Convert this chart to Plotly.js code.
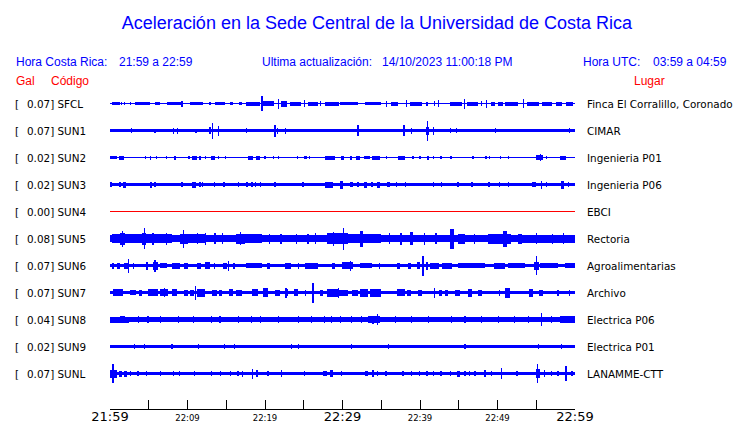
<!DOCTYPE html>
<html>
<head>
<meta charset="utf-8">
<script src="https://cdn.plot.ly/plotly-3.0.1.min.js"></script>
<style>html,body{margin:0;padding:0;background:#fff;}#chart{width:740px;height:423px;}</style>
</head>
<body>
<div id="chart"></div>
<script>
// ---- data ----
const codes  = ['SFCL','SUN1','SUN2','SUN3','SUN4','SUN5','SUN6','SUN7','SUN8','SUN9','SUNL'];
const galMax = ['0.07','0.07','0.02','0.02','0.00','0.08','0.07','0.07','0.04','0.02','0.07'];
const places = ['Finca El Corralillo, Coronado','CIMAR','Ingenieria P01','Ingenieria P06','EBCI','Rectoria',
                'Agroalimentarias','Archivo','Electrica P06','Electrica P01','LANAMME-CTT'];
// background noise half-amplitude of each trace (relative units)
const noiseAmp = [0.6, 1.8, 0.6, 1.7, 0, 3.6, 1.5, 1.6, 2.3, 1.3, 1.5];
// bursts: [start minute, end minute, half-amplitude]
const evSFCL = [[0.2,1.3,1.3],[1.5,1.5,1.5],[1.9,1.9,1.5],[2.6,2.6,1.5],[3.2,5.2,1.5],[5.8,6.5,1.5],[7.3,9.2,1.5],[9.3,9.3,3],
  [10.3,12.0,1.5],[12.9,12.9,1.5],[13.5,14.8,1.5],[15.5,15.9,1.5],[16.6,17.0,1.5],[17.6,19.4,2],[19.6,19.6,7.5],[19.8,21.1,2.5],
  [21.7,21.7,5],[22.1,22.8,3],[23.2,24.7,2],[25.1,25.1,3.5],[25.6,26.9,2],[27.2,27.2,2.5],[27.7,29.5,2],[29.7,32.0,1.8],
  [32.9,35.0,1.8],[35.7,35.7,3],[36.3,37.2,2],[38.3,38.3,3.5],[38.7,40.2,2],[40.9,40.9,2],[41.9,41.9,2.5],[42.4,42.4,3.5],
  [43.9,45.4,2],[45.7,45.7,5],[46.0,47.5,2],[47.9,47.9,2.5],[48.6,48.6,4],[49.2,49.7,2],[50.1,50.7,2],[51.0,52.7,2],
  [53.4,53.4,4.5],[53.8,55.3,2],[55.7,57.0,2],[57.6,58.3,2],[58.9,59.8,2]];
const evSUN1 = [[2.8,2.8,2.5],[5.8,5.8,2],[8.2,8.2,3],[8.6,8.8,3],[11.1,11.1,2],[12.9,12.9,3.5],[13.2,13.2,8],[14.0,14.0,5],
  [17.6,17.6,2.5],[21.3,21.3,6],[21.6,21.6,3],[22.6,22.6,3],[32.0,32.0,5.5],[37.8,38.0,5.5],[38.9,38.9,3],[41.0,41.0,10],
  [40.8,41.2,4],[41.7,41.7,4],[43.9,43.9,2.5],[44.7,44.7,2.5],[49.7,49.7,2.2],[59.3,59.3,2.2]];
const evSUN2 = [[0,0.9,1.5],[1.2,1.8,2],[4.6,4.6,1.5],[5.2,5.2,2],[6.0,6.0,1.5],[7.3,7.3,1.5],[8.4,8.4,2],[10.0,10.3,1.5],
  [10.6,11.2,2],[11.5,11.8,2],[12.3,12.3,1.5],[13.0,13.5,2],[14.0,14.0,1.5],[14.9,14.9,1.5],[17.8,18.5,2],[18.8,19.4,2],
  [20.0,20.0,1.5],[21.1,21.1,1.5],[21.7,21.7,1.5],[24.2,24.2,1.5],[25.0,25.4,1.5],[25.7,25.7,1.5],[27.7,29.0,2],[29.8,30.2,2],
  [31.0,31.2,2],[31.7,32.3,2],[32.8,33.5,1.5],[33.8,34.8,2],[35.7,35.7,1.5],[37.2,38.1,2],[39.1,39.1,1.5],[40.0,40.0,1.5],
  [40.9,41.1,2],[41.7,41.7,1.5],[42.6,42.9,1.5],[44.0,44.0,1.5],[46.7,47.0,1.5],[48.5,48.5,1.5],[49.0,49.0,1.5],[50.4,50.4,1.5],
  [51.4,51.4,1.5],[55.0,55.9,2.5],[55.5,55.5,3.5],[56.3,56.3,1.5],[58.1,58.8,2]];
const evSUN3 = [[0,0.2,2.8],[1.3,1.3,2.8],[1.7,2.0,3],[5.2,5.4,3],[5.8,5.8,2.8],[9.3,9.3,2.5],[10.6,11.1,3],[11.6,11.6,2.8],
  [11.9,11.9,2.8],[13.5,13.5,2.5],[14.7,14.7,2.5],[16.6,16.6,2.5],[17.5,17.8,2.8],[18.2,18.4,2.8],[18.7,18.9,2.8],[19.4,19.4,2.5],
  [21.3,21.3,2.5],[24.9,24.9,2.5],[27.7,28.8,3],[29.7,30.1,4],[31.0,31.4,2.8],[32.0,32.0,2.8],[32.8,33.1,3],[33.8,33.8,2.5],
  [34.4,34.8,3],[35.7,36.1,2.8],[37.0,37.0,2.5],[38.1,38.1,2.5],[41.7,41.7,2.5],[42.8,42.8,2.5],[44.9,44.9,2.5],[46.7,46.7,2.5],
  [48.9,48.9,2.5],[50.3,50.3,2.5],[51.4,51.4,2.5],[54.4,55.0,2.8],[55.6,55.8,4],[56.3,56.3,2.5],[58.2,58.6,4],[59.2,59.2,2.5]];
const evSUN4 = [];
const evSUN5 = [[0.2,4.1,4.3],[1.3,1.9,6],[1.6,1.6,8],[4.1,4.7,6],[4.4,4.5,10.5],[4.7,8.0,4.5],[5.5,5.6,6],[7.2,7.3,6],
  [9.0,10.1,5],[9.4,9.6,9],[10.1,12.3,4.3],[11.2,11.3,5.5],[12.3,12.3,6],[13.5,13.6,5.5],[14.5,14.6,5.5],[16.3,17.4,5],[16.8,16.9,6.5],
  [17.4,19.6,4.3],[20.5,20.6,5],[22.0,22.1,5],[24.0,24.1,5],[25.5,25.6,5],[26.5,26.6,5.5],[28.0,30.7,5.3],[28.8,28.9,7],
  [30.0,30.2,11],[30.7,35.0,4.3],[32.3,32.7,8],[36.0,36.1,5.5],[37.5,37.6,6],[38.7,39.1,6.5],[40.5,40.6,6],[42.0,42.1,5.5],
  [43.9,44.4,10],[44.9,45.8,5],[47.0,47.1,5],[48.8,51.8,5],[50.7,51.2,8],[52.7,53.1,5],[53.1,60,4],[55.0,55.1,5.5],
  [57.0,57.1,5],[58.5,58.6,5.5]];
const evSUN6 = [[0.4,0.4,3],[0.9,1.3,3],[1.8,2.4,3],[2.4,2.4,7],[3.0,3.0,3],[4.6,4.9,4],[5.6,6.2,4],[5.8,5.8,6],[6.5,7.3,2.5],
  [8.0,9.0,3],[9.5,10.1,3],[11.2,11.8,3],[12.3,12.9,3.5],[13.5,13.5,3],[14.6,15.1,3],[15.3,15.3,5],[15.9,16.1,3],[17.6,19.6,2.5],
  [20.3,20.6,3],[22.6,23.4,3],[24.3,24.3,3],[25.2,26.9,3],[28.6,29.0,3],[29.9,31.4,3.5],[31.0,31.0,5],[32.3,33.8,2.5],
  [34.8,34.8,3],[37.0,37.4,3],[38.5,38.9,3],[39.6,40.0,3.5],[40.4,40.4,10],[40.9,40.9,4],[41.3,42.4,3],[42.8,44.1,3],
  [44.9,48.4,2.2],[49.5,51.0,3],[51.4,53.5,2.5],[55.0,55.0,9.5],[54.7,55.3,4],[55.5,57.8,2.5],[58.7,60,2.5]];
const evSUN7 = [[0.4,1.7,3.5],[2.6,3.4,2.5],[3.7,4.1,3],[4.9,6.2,3.5],[6.5,7.5,3.5],[7.0,7.0,4.5],[8.0,8.6,3.5],[9.5,10.1,3],
  [10.3,10.8,3],[11.0,11.0,7],[11.2,12.3,4],[13.1,13.8,3],[14.0,14.4,3],[15.3,15.9,3.5],[16.3,17.0,3],[18.3,19.1,3.5],
  [19.8,20.4,4.5],[21.3,21.9,3],[22.6,23.0,3.5],[22.7,22.7,5],[23.7,24.3,3.5],[25.2,25.2,3],[26.2,26.2,10],[27.1,27.5,3],
  [28.0,29.5,4],[29.5,29.5,5],[29.5,30.7,3],[31.2,32.0,3],[32.3,33.3,4],[33.5,35.0,4],[37.0,38.1,3.5],[38.3,38.9,3],
  [39.8,40.2,3],[41.9,41.9,5],[42.4,42.8,3],[43.2,43.6,3],[44.5,45.2,3],[46.2,46.7,4],[47.5,48.0,3],[50.3,50.3,3],
  [51.0,51.6,5],[54.0,54.6,4],[55.3,55.9,3],[57.8,57.8,3],[59.3,59.3,3]];
const evSUN8 = [[0,2.4,3],[1.3,1.9,3.8],[3.7,3.7,3.3],[4.9,4.9,3.3],[6.5,6.5,3.3],[8.8,8.8,3.3],[10.8,10.8,3.3],[13.1,13.1,3.3],
  [14.2,14.2,3.3],[16.6,16.6,3.3],[18.3,18.3,3.3],[19.4,19.4,3.3],[21.7,21.7,3.3],[24.3,24.3,3.3],[26.0,26.0,3.3],[27.7,27.7,3.3],
  [28.6,28.6,3.3],[29.7,29.7,3.3],[31.2,31.2,3.3],[32.5,32.5,3.3],[33.3,34.8,3.2],[34.5,34.5,5.5],[33.9,34.0,4],[36.8,36.8,3.3],
  [38.9,38.9,3.3],[41.1,41.1,3.3],[44.1,44.1,3.3],[45.8,45.8,3.3],[47.9,47.9,3.3],[50.1,50.1,3.3],[52.2,52.2,3.3],[54.0,54.0,3.3],
  [55.7,55.7,6.5],[57.0,57.0,3.3],[58.1,60,3.2]];
const evSUN9 = [[0,2.2,1.8],[3.2,3.2,2.2],[4.5,4.5,2.2],[8.0,8.0,2.2],[11.4,11.4,2.2],[14.8,14.8,2.2],[16.1,16.1,2.2],
  [23.4,23.4,2.2],[24.3,24.3,2.2],[31.2,31.2,2.2],[35.9,35.9,2.2],[45.8,45.8,2.2],[55.3,55.3,2.2],[58.3,58.3,2.2]];
const evSUNL = [[0,0.9,4],[0.4,0.4,9.5],[1.1,1.5,3],[1.8,2.2,3],[2.6,2.6,2.5],[3.6,3.6,2.5],[4.7,4.7,2.5],[6.5,6.5,2.5],
  [8.2,8.2,2.5],[9.0,9.0,2.5],[10.9,10.9,2.5],[13.1,13.1,2.5],[14.3,14.3,2.5],[15.5,15.5,2.5],[16.5,16.5,2.5],[17.1,17.1,3],
  [18.3,18.5,5],[18.9,19.1,3.5],[20.4,20.4,2.5],[22.1,22.1,3.5],[25.1,25.1,2.5],[27.5,28.0,2.5],[28.4,28.8,3.5],[29.9,29.9,2.5],
  [32.9,33.3,2.5],[33.8,34.0,3.5],[34.5,34.5,2.5],[35.6,35.6,2.5],[37.8,37.8,2.5],[38.9,38.9,2.5],[39.9,39.9,2.5],
  [40.9,40.9,2.5],[41.7,41.7,2.5],[42.6,42.9,2.5],[43.9,43.9,2.5],[44.8,45.2,3],[45.8,45.8,2.5],[46.4,46.4,2.5],
  [47.1,47.1,2.5],[48.2,48.5,3.5],[49.2,49.2,2.5],[50.4,50.6,5.5],[52.5,52.5,2.5],[55.0,55.5,4.5],[55.2,55.2,9.5],
  [56.1,56.1,3.5],[57.0,57.0,2.5],[57.8,57.8,2.5],[58.7,59.0,4],[58.85,58.85,7.5],[59.6,59.6,2.5]];
const bursts = [evSFCL, evSUN1, evSUN2, evSUN3, evSUN4, evSUN5, evSUN6, evSUN7, evSUN8, evSUN9, evSUNL];
const tickMinutes = [0,5,10,15,20,25,30,35,40,45,50,55,60];
const tickLabels  = ['21:59','','22:09','','22:19','','22:29','','22:39','','22:49','','22:59'];
const bigTicks    = ['21:59','22:29','22:59'];

// ---- build ----
const ROW = 27;
const L = 110, R = 575, T = 90, B = 409, W = 740, H = 423;
const traces = [];
bursts.forEach((ev, i) => {
  const c = i * ROW;
  if (noiseAmp[i] === 0) {
    traces.push({type:'bar', x:[30], y:[1], base:[c - 0.5], width:[60], marker:{color:'#ff0000', line:{width:0}}, hoverinfo:'skip'});
    return;
  }
  const xs = [30], ws = [60], bs = [c - noiseAmp[i]], hs = [2 * noiseAmp[i]];
  ev.forEach(([s, e, a]) => {
    xs.push((s + e) / 2); ws.push(Math.max(e - s, 0.16)); bs.push(c - a); hs.push(2 * a);
  });
  traces.push({type:'bar', x:xs, y:hs, base:bs, width:ws, marker:{color:'#0000ff', line:{width:0}}, hoverinfo:'skip'});
});

const px = x => (x - L) / (R - L);
const py = y => (B - y) / (B - T);
const ann = [];
const txt = (text, x, y, color, size, family, anchor) => ann.push({
  text, x: px(x), y: py(y), xref:'paper', yref:'paper', xanchor: anchor || 'left', yanchor:'middle',
  showarrow:false, font:{color, size, family}
});
const HF = 'Liberation Sans, Arial, sans-serif';
const DF = 'DejaVu Sans, sans-serif';
txt('Hora Costa Rica:', 14, 62, '#0000ff', 12, HF);
txt('21:59 a 22:59', 117, 62, '#0000ff', 12, HF);
txt('Ultima actualización:', 260, 62, '#0000ff', 12, HF);
txt('14/10/2023 11:00:18 PM', 380, 62, '#0000ff', 12, HF);
txt('Hora UTC:', 581, 62, '#0000ff', 12, HF);
txt('03:59 a 04:59', 651, 62, '#0000ff', 12, HF);
txt('Gal', 14, 81, '#ff0000', 12, HF);
txt('Código', 49, 81, '#ff0000', 12, HF);
txt('Lugar', 632, 81, '#ff0000', 12, HF);
codes.forEach((code, i) => {
  const y = 103.5 + i * ROW;
  txt('[', 13, y, '#000', 10.4, DF);
  txt(galMax[i] + '] ' + code, 25, y, '#000', 10.4, DF);
  txt(places[i], 585, y, '#000', 10.4, DF);
});

const ticktext = tickLabels.map(t => bigTicks.includes(t) ? t : (t ? '<span style="font-size:8.5px">' + t + '</span>' : ''));

const layout = {
  width: W, height: H,
  margin: {l: L, r: W - R, t: T, b: H - B, pad: 0},
  paper_bgcolor: '#fff', plot_bgcolor: '#fff',
  showlegend: false, barmode: 'overlay', bargap: 0,
  title: {text: 'Aceleración en la Sede Central de la Universidad de Costa Rica',
          font: {family: HF, size: 18, color: '#0000ff'},
          x: 377 / W, xanchor: 'center', xref: 'container', y: 1 - 23 / H, yanchor: 'middle', yref: 'container'},
  xaxis: {range: [0, 60], tickmode: 'array', tickvals: tickMinutes, ticktext: ticktext,
          ticks: 'inside', ticklen: 9, tickwidth: 1, tickcolor: '#000', ticklabelstandoff: -5,
          showline: true, linecolor: '#000', linewidth: 1, showgrid: false, zeroline: false,
          tickfont: {family: DF, size: 13, color: '#000'}, fixedrange: true},
  yaxis: {range: [B - T - 13.5, -13.5], visible: false, showgrid: false, zeroline: false, fixedrange: true},
  annotations: ann
};
Plotly.newPlot('chart', traces, layout, {displayModeBar: false, staticPlot: true});
</script>
</body>
</html>
